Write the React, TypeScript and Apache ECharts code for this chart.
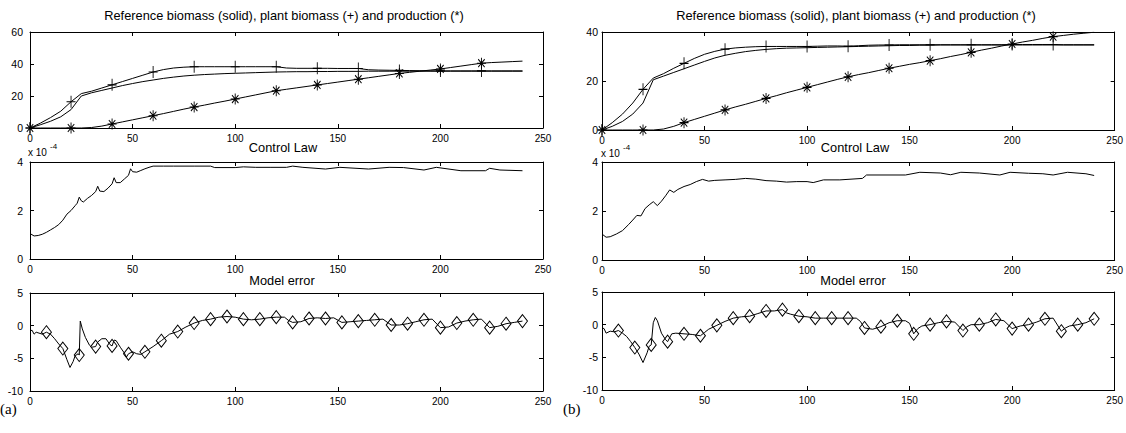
import React, { useEffect, useRef } from "react";
import * as echarts from "echarts";

// ---------------- data ----------------
// biomass panels: sampled every 5 time units, 0..240
const bioT = [0,5,10,15,20,25,30,35,40,45,50,55,60,65,70,75,80,85,90,95,100,105,110,115,120,125,130,135,140,145,150,155,160,165,170,175,180,185,190,195,200,205,210,215,220,225,230,235,240];

const refA = [0,2,4.2,7,11.5,20,22,23.5,25,26.5,27.8,29,30,31,31.8,32.5,33,33.4,33.7,34,34.2,34.4,34.6,34.8,35,35.1,35.2,35.2,35.3,35.3,35.4,35.4,35.4,35.5,35.5,35.5,35.5,35.5,35.5,35.5,35.5,35.5,35.5,35.5,35.5,35.5,35.5,35.5,35.5];
const plantA = [0,3,6.5,10.5,16.4,21.5,23,25,27,29,31,33,35,36.5,37.5,38,38.3,38.3,38.3,38.3,38.3,38.3,38.3,38.3,38.3,37.5,37.3,37.3,37.3,37.3,37.2,37.2,37.2,36.4,36.2,36.1,36,35.9,35.8,35.7,35.7,35.7,35.7,35.7,35.7,35.7,35.7,35.7,35.7];
const prodA = [0,0,0,0,0,0,0.3,1.2,2.5,3.8,5.1,6.4,7.7,9,10.4,11.8,13.1,14.3,15.6,16.8,18.1,19.4,20.7,22,23.3,24.2,25.1,26,26.9,27.8,28.7,29.6,30.5,31.4,32.3,33.2,34.1,34.8,35.5,36.2,36.9,37.8,38.7,39.6,40.5,40.9,41.2,41.5,41.8];

const refB = [0,1.5,3.5,6.5,11,20.5,22,23.5,25,26.5,28,29.4,30.5,31.3,32,32.5,32.9,33.2,33.4,33.5,33.6,33.7,33.8,33.9,34,34.1,34.2,34.3,34.4,34.5,34.5,34.6,34.6,34.7,34.7,34.7,34.7,34.7,34.7,34.7,34.7,34.7,34.7,34.7,34.7,34.7,34.7,34.7,34.7];
const plantB = [0,3,6.5,11,16.6,21.2,23,25.2,27.2,29.2,30.9,32.1,33,33.5,33.8,34,34.1,34.1,34.1,34.1,34.1,34.2,34.3,34.3,34.2,34.4,34.6,34.7,34.7,34.8,34.8,34.8,34.8,34.8,34.8,34.8,34.8,34.8,34.8,34.8,34.9,34.9,34.9,34.9,34.9,34.8,34.8,34.8,34.8];
const prodB = [0,0,0,0,0,0,0.4,1.5,3,4.3,5.6,6.9,8.2,9.4,10.5,11.7,12.9,14,15.2,16.3,17.4,18.5,19.6,20.7,21.7,22.6,23.4,24.3,25.2,26,26.8,27.5,28.3,29.1,30,30.8,31.7,32.6,33.4,34.3,35.1,35.9,36.6,37.4,38.1,38.6,39.1,39.5,39.9];

// control law (x 10^-4)
const ctrlXA = [0,2,4,6,8,10,12,14,16,18,20,22,23,24,25,26,28,30,32,33,34,36,38,40,41,42,44,46,48,49,50,52,54,56,58,60,65,70,80,88,90,100,104,110,117,125,128,133,144,151,165,175,182,192,198,210,222,224,229,240];
const ctrlA = [1.05,0.95,0.97,1.02,1.1,1.2,1.3,1.42,1.6,1.85,2.0,2.2,2.3,2.55,2.4,2.35,2.5,2.62,2.78,3.0,2.8,2.78,2.92,3.1,3.35,3.15,3.15,3.3,3.45,3.72,3.6,3.58,3.65,3.72,3.78,3.83,3.83,3.83,3.83,3.83,3.77,3.77,3.8,3.78,3.78,3.78,3.83,3.78,3.71,3.78,3.71,3.78,3.77,3.67,3.78,3.64,3.64,3.74,3.67,3.64];
const ctrlXB = [0,2,4,7,10,13,15,17,19,21,23,25,27,29,31,33,35,37,40,43,46,49,52,55,60,65,70,75,80,85,90,95,100,103,108,116,127,129,148,155,165,170,175,184,194,199,208,215,220,227,236,240];
const ctrlB = [1.06,0.93,0.95,1.06,1.2,1.45,1.63,1.82,1.8,2.1,2.25,2.38,2.22,2.4,2.62,2.86,2.76,2.88,3.0,3.08,3.2,3.29,3.22,3.25,3.27,3.29,3.33,3.3,3.24,3.22,3.18,3.2,3.2,3.16,3.27,3.27,3.33,3.47,3.47,3.58,3.55,3.48,3.58,3.55,3.47,3.58,3.54,3.52,3.47,3.58,3.52,3.45];

// model error
const errXA = [0,1,2,3,6,8,10,12,14,16,18,19.5,21,22,23.5,24,24.5,25.5,27,29,30,32,33,35,37,39,40,41,42,44,46,47,48,50,52,54,56,58,60,64,68,72,76,80,84,88,92,96,100,104,108,112,116,120,124,126,128,132,136,140,144,148,152,156,160,164,168,172,176,180,184,188,192,196,200,204,208,212,216,220,224,228,232,236,240];
const errA = [-0.8,-0.7,-1.3,-1.0,-1.3,-1.0,-1.3,-2.0,-2.8,-3.5,-5.2,-6.4,-5.5,-4.6,-4.3,-4.5,0.7,-0.5,-1.8,-3.0,-3.3,-3.2,-2.5,-2.0,-2.0,-2.9,-3.1,-2.2,-2.3,-3.3,-4.2,-4.8,-4.3,-4.0,-4.3,-4.4,-4.0,-3.6,-3.2,-2.3,-1.3,-0.9,-0.2,0.4,0.8,1.0,1.3,1.4,1.3,1.0,0.9,1.0,1.2,1.3,1.3,0.8,0.5,0.6,1.1,1.2,1.1,1.2,0.5,0.6,0.7,0.8,0.9,1.0,0.1,0.1,0.3,0.6,0.9,1.0,-0.3,-0.2,0.4,0.7,0.9,1.0,-0.3,-0.1,0.3,0.5,0.7];
const errXB = [0,1,2,4,6,8,10,12,14,16,18,20,22,23,24,25,26,27,29,31,32,34,36,40,44,48,50,52,56,60,64,68,72,76,80,84,88,90,92,96,100,104,108,112,116,120,124,126,128,132,136,140,144,148,150,152,154,156,160,164,168,172,176,178,180,184,188,192,196,200,204,208,212,216,220,224,226,228,232,236,240];
const errB = [-0.5,-0.6,-1.3,-1.0,-1.1,-0.9,-1.3,-1.8,-2.6,-3.5,-4.5,-5.8,-4.3,-3.3,-3.1,0.3,1.1,0.6,-1.3,-2.3,-2.6,-1.4,-1.3,-1.4,-1.5,-1.7,-1.2,-0.7,-0.1,0.5,1.0,1.2,1.3,1.7,2.1,2.1,2.3,1.8,1.6,1.3,1.2,1.0,1.0,1.0,1.0,1.0,1.0,0.5,-0.5,-0.7,-0.3,0.3,0.6,0.6,0.2,-1.4,-0.6,-0.2,0.0,0.3,0.5,0.4,-0.9,-0.3,0.0,0.0,0.3,0.8,0.6,-0.6,-0.2,0.0,0.4,0.9,1.0,-1.0,-0.5,-0.2,0.0,0.3,0.9];

const xTicks = [0, 50, 100, 150, 200, 250];

// ---------------- helpers ----------------
const FONT = "'Liberation Sans', Arial, Helvetica, sans-serif";
const pairs = (xs: number[], ys: number[]) => xs.map((x, i) => [x, ys[i]]);
const pick = (xs: number[], ys: number[], f: (x: number) => boolean) =>
  xs.map((x, i) => [x, ys[i]]).filter((p) => f(p[0]));

const PLUS = "path://M0,-5L0,5M-5,0L5,0";
const STAR = "path://M0,-5L0,5M-5,0L5,0M-3.6,-3.6L3.6,3.6M-3.6,3.6L3.6,-3.6";

const grids = [
  { left: 30, top: 32, width: 513, height: 96 },
  { left: 30, top: 162, width: 513, height: 97 },
  { left: 30, top: 293, width: 513, height: 98 },
  { left: 602, top: 32, width: 513, height: 98 },
  { left: 602, top: 162, width: 513, height: 98 },
  { left: 602, top: 292, width: 513, height: 98 },
];
const yRanges = [
  [0, 60, 20], [0, 4, 2], [-10, 5, 5],
  [0, 40, 20], [0, 4, 2], [-10, 5, 5],
];

const line = { show: true, onZero: false, lineStyle: { color: "#000", width: 1 } };
const tick = { show: true, inside: true, length: 4, lineStyle: { color: "#000", width: 1 } };

function buildAxes() {
  const xAxis: any[] = [];
  const yAxis: any[] = [];
  grids.forEach((_, g) => {
    const lm = g < 3 ? 7 : 4;
    xAxis.push({
      gridIndex: g, type: "value", min: xTicks[0], max: xTicks[xTicks.length - 1], interval: 50,
      position: "bottom", axisLine: line, axisTick: tick, splitLine: { show: false },
      axisLabel: { color: "#000", fontSize: 10, fontFamily: FONT, margin: 5 },
    });
    xAxis.push({
      gridIndex: g, type: "value", min: 0, max: 250, interval: 50, position: "top",
      axisLine: line, axisTick: tick, splitLine: { show: false }, axisLabel: { show: false },
    });
    const [mn, mx, it] = yRanges[g];
    yAxis.push({
      gridIndex: g, type: "value", min: mn, max: mx, interval: it, position: "left",
      axisLine: line, axisTick: tick, splitLine: { show: false },
      axisLabel: { color: "#000", fontSize: 10.5, fontFamily: FONT, margin: lm },
    });
    yAxis.push({
      gridIndex: g, type: "value", min: mn, max: mx, interval: it, position: "right",
      axisLine: line, axisTick: tick, splitLine: { show: false }, axisLabel: { show: false },
    });
  });
  return { xAxis, yAxis };
}

function lineSeries(g: number, data: number[][]) {
  return {
    type: "line", xAxisIndex: 2 * g, yAxisIndex: 2 * g, data,
    symbol: "none", showSymbol: false, silent: true,
    lineStyle: { color: "#000", width: 1 }, z: 2,
  };
}
function markSeries(g: number, data: number[][], symbol: string, size: number[]) {
  return {
    type: "scatter", xAxisIndex: 2 * g, yAxisIndex: 2 * g, data, symbol, symbolSize: size,
    silent: true, z: 3,
    itemStyle: { color: "rgba(0,0,0,0)", borderColor: "#000", borderWidth: 1, opacity: 1 },
  };
}

const every20 = (x: number) => x % 20 === 0 && x <= 220;
const every8 = (x: number) => x > 0 && x % 8 === 0;

function buildOption() {
  const { xAxis, yAxis } = buildAxes();
  const series: any[] = [
    lineSeries(0, pairs(bioT, refA)),
    lineSeries(0, pairs(bioT, plantA)),
    lineSeries(0, pairs(bioT, prodA)),
    markSeries(0, pick(bioT, plantA, every20), PLUS, [9, 12]),
    markSeries(0, pick(bioT, prodA, every20), STAR, [9, 11]),
    lineSeries(1, pairs(ctrlXA, ctrlA)),
    lineSeries(2, pairs(errXA, errA)),
    markSeries(2, pick(errXA, errA, every8), "diamond", [10, 13]),
    lineSeries(3, pairs(bioT, refB)),
    lineSeries(3, pairs(bioT, plantB)),
    lineSeries(3, pairs(bioT, prodB)),
    markSeries(3, pick(bioT, plantB, every20), PLUS, [9, 12]),
    markSeries(3, pick(bioT, prodB, every20), STAR, [9, 11]),
    lineSeries(4, pairs(ctrlXB, ctrlB)),
    lineSeries(5, pairs(errXB, errB)),
    markSeries(5, pick(errXB, errB, every8), "diamond", [10, 13]),
  ];
  const T = (x: number, y: number, text: string, fs = 12.8, align = "center", family = FONT) => ({
    type: "text", x, y, silent: true,
    style: { text, fill: "#000", fontSize: fs, fontFamily: family, align, verticalAlign: "middle" },
  });
  const title = "Reference biomass (solid), plant biomass (+) and production (*)";
  const graphic = [
    T(284, 15, title), T(856, 15, title),
    T(283, 147, "Control Law"), T(855, 147, "Control Law"),
    T(282, 280, "Model error"), T(853, 280, "Model error"),
    T(28, 152.5, "x 10", 10, "left"), T(50, 146.5, "-4", 8, "left"),
    T(601, 153.5, "x 10", 10, "left"), T(623, 147.5, "-4", 8, "left"),
    T(0, 409, "(a)", 15, "left", "'Liberation Serif', 'Times New Roman', serif"),
    T(563, 409, "(b)", 15, "left", "'Liberation Serif', 'Times New Roman', serif"),
  ];
  return { animation: false, backgroundColor: "#fff", grid: grids, xAxis, yAxis, series, graphic };
}

export default function App() {
  const ref = useRef<HTMLDivElement>(null);
  useEffect(() => {
    if (!ref.current) return;
    const chart = echarts.init(ref.current, undefined, { renderer: "svg" });
    chart.setOption(buildOption() as any);
    return () => chart.dispose();
  }, []);
  return (
    <div
      ref={ref}
      style={{ position: "fixed", left: 0, top: 0, width: 1126, height: 433, background: "#fff" }}
    />
  );
}
